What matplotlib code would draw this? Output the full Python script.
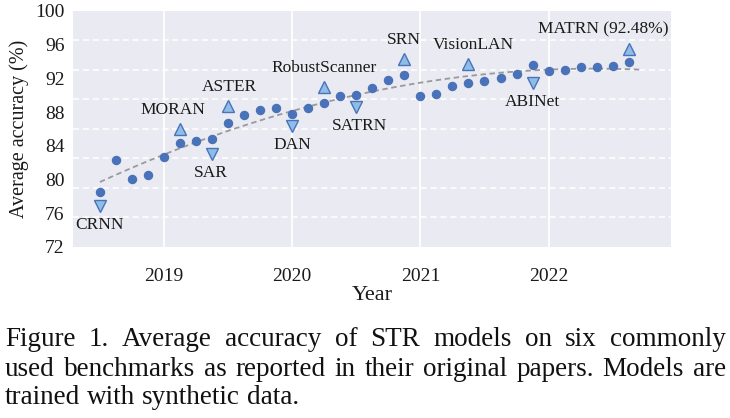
import matplotlib.pyplot as plt
import numpy as np

plt.rcParams['font.family'] = ['Liberation Serif', 'DejaVu Serif']

# dots: one model every 1.5 months
years = [2018.5, 2018.625, 2018.75, 2018.875, 2019.0, 2019.125, 2019.25, 2019.375,
         2019.5, 2019.625, 2019.75, 2019.875, 2020.0, 2020.125, 2020.25, 2020.375,
         2020.5, 2020.625, 2020.75, 2020.875, 2021.0, 2021.125, 2021.25, 2021.375,
         2021.5, 2021.625, 2021.75, 2021.875, 2022.0, 2022.125, 2022.25, 2022.375,
         2022.5, 2022.625]
acc = [78.5, 82.3, 80.1, 80.5, 82.7, 84.3, 84.6, 84.8,
       86.7, 87.6, 88.2, 88.5, 87.8, 88.5, 89.1, 89.9,
       90.0, 90.8, 91.8, 92.4, 89.9, 90.1, 91.1, 91.5,
       91.7, 92.1, 92.5, 93.6, 92.9, 93.0, 93.4, 93.4,
       93.5, 93.9]

# named models (triangle markers)
names = ['CRNN', 'MORAN', 'SAR', 'ASTER', 'DAN', 'RobustScanner', 'SATRN',
         'SRN', 'VisionLAN', 'ABINet', 'MATRN (92.48%)']
name_years = [2018.5, 2019.125, 2019.375, 2019.5, 2020.0, 2020.25, 2020.5,
              2020.875, 2021.375, 2021.875, 2022.625]
name_acc = [76.8, 86.0, 83.0, 88.7, 86.3, 91.0, 88.6, 94.3, 93.7, 91.5, 95.5]
name_up = [False, True, False, True, False, True, False, True, True, False, True]

yticks = [72, 76, 80, 84, 88, 92, 96, 100]
xticks = [2019, 2020, 2021, 2022]

dot_c = '#4a72b8'
tri_fc = '#8ebde8'
bg = '#eaeaf2'

fig = plt.figure(figsize=(7.3, 4.18), dpi=100)
ax = fig.add_axes([73/730, 1-246.7/418, 598/730, 235.7/418])
ax.set_facecolor(bg)
for s in ax.spines.values():
    s.set_visible(False)

ax.set_xlim(2018.29, 2022.955)
ax.set_ylim(72, 100)

# grid
for xt in xticks:
    ax.axvline(xt, color='white', lw=1.3, zorder=0)
for g in np.linspace(72, 100, 9)[1:-1]:
    ax.axhline(g, color='white', lw=1.1, ls=(0, (4, 2.5)), zorder=0)

# trend line
coef = np.polyfit(years, acc, 2)
tx = np.linspace(2018.5, 2022.73, 100)
ax.plot(tx, np.polyval(coef, tx), color='#9a9a9a', lw=1.3, ls=(0, (3, 2)), zorder=1)

ax.plot(years, acc, 'o', color=dot_c, ms=5.8, zorder=3)

nudge = {'MORAN': -7, 'SAR': -1, 'ASTER': 1, 'SATRN': 3, 'VisionLAN': 5,
         'MATRN (92.48%)': -25}
for n, x, y, up in zip(names, name_years, name_acc, name_up):
    ax.plot(x, y, '^' if up else 'v', ms=8, mfc=tri_fc, mec=dot_c, mew=1.0, zorder=4)
    ax.annotate(n, (x, y), xytext=(nudge.get(n, 0), 19 if up else -19),
                textcoords='offset pixels', ha='center', va='center',
                fontsize=12.5, color='#1a1a1a')

ax.set_yticks(yticks)
ax.set_yticklabels([str(v) for v in yticks])
ax.set_xticks(xticks)
ax.set_xticklabels([str(v) for v in xticks])
ax.tick_params(axis='both', length=0, labelsize=14, colors='#1a1a1a')
ax.tick_params(axis='x', pad=15)
ax.tick_params(axis='y', pad=6)

ax.text(-0.09, 0.5, 'Average accuracy (%)', transform=ax.transAxes, rotation=90,
        ha='center', va='center', fontsize=14.5, color='#1a1a1a')
ax.text(0.5, -0.205, 'Year', transform=ax.transAxes, ha='center', va='center',
        fontsize=16, color='#1a1a1a')

# caption, justified like the paper
lines = ['Figure 1. Average accuracy of STR models on six commonly',
         'used benchmarks as reported in their original papers. Models are',
         'trained with synthetic data.']
line_y = [340, 369, 398]
r = fig.canvas.get_renderer()
for i, (line, py) in enumerate(zip(lines, line_y)):
    words = line.split(' ')
    ts = [fig.text(0, 1-py/418, w, fontsize=19.5, va='center', ha='left', color='#111111')
          for w in words]
    ws = [t.get_window_extent(r).width for t in ts]
    if i < len(lines)-1:
        gap = (726 - 5 - sum(ws))/(len(words)-1)
    else:
        gap = ts[0].get_fontsize()*100/72*0.25
    x = 5
    for t, w in zip(ts, ws):
        t.set_x(x/730)
        x += w + gap

fig.savefig('out.png', dpi=100)
